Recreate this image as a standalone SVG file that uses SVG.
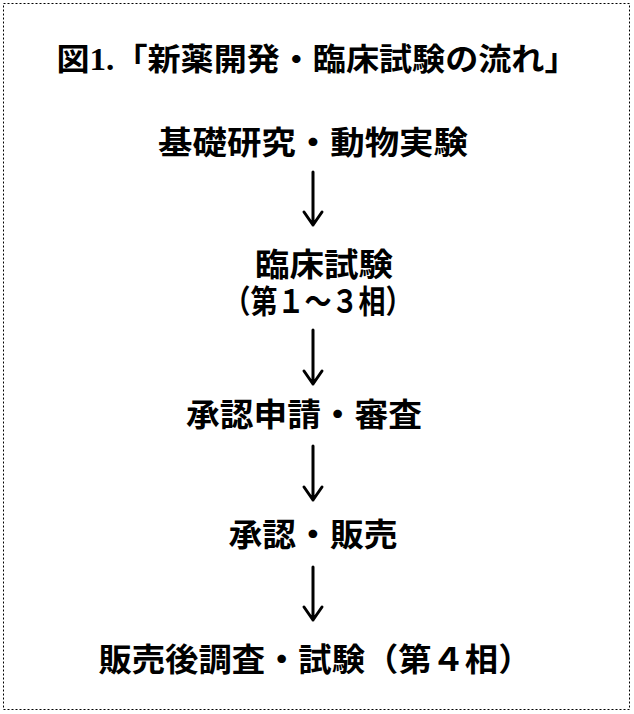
<svg xmlns="http://www.w3.org/2000/svg" width="634" height="714" viewBox="0 0 634 714">
<style>
text{font-family:"Liberation Serif","Noto Sans CJK JP",serif;font-weight:bold;fill:#000;text-anchor:middle}
.t{font-size:32px}
.a{stroke:#000;stroke-width:3;fill:none;stroke-linecap:round;stroke-linejoin:round}
</style>
<rect x="3.5" y="3.5" width="626" height="706" fill="#fff" stroke="#000" stroke-width="1" stroke-dasharray="2,2"/>
<text id="title" x="317" y="70" style="font-size:31px" textLength="521" lengthAdjust="spacingAndGlyphs">図1.「新薬開発・臨床試験の流れ」</text>
<g id="n1"><text class="t" x="313" y="154" textLength="310" lengthAdjust="spacingAndGlyphs">基礎研究・動物実験</text></g>
<g id="n2"><text class="t" x="324" y="276" textLength="138" lengthAdjust="spacingAndGlyphs">臨床試験</text><text class="t" x="318" y="313" textLength="189" lengthAdjust="spacingAndGlyphs">（第１～３相）</text></g>
<g id="n3"><text class="t" x="304" y="426" textLength="236" lengthAdjust="spacingAndGlyphs">承認申請・審査</text></g>
<g id="n4"><text class="t" x="313" y="546" textLength="169" lengthAdjust="spacingAndGlyphs">承認・販売</text></g>
<g id="n5"><text class="t" x="315" y="671" textLength="433" lengthAdjust="spacingAndGlyphs">販売後調査・試験（第４相）</text></g>
<g id="connectors">
<path class="a" d="M313 172V225M304 212L313 225L322 212"/>
<path class="a" d="M313 330V384M304 371L313 384L322 371"/>
<path class="a" d="M313 446V500M304 487L313 500L322 487"/>
<path class="a" d="M313 567V620M304 607L313 620L322 607"/>
</g>
</svg>
